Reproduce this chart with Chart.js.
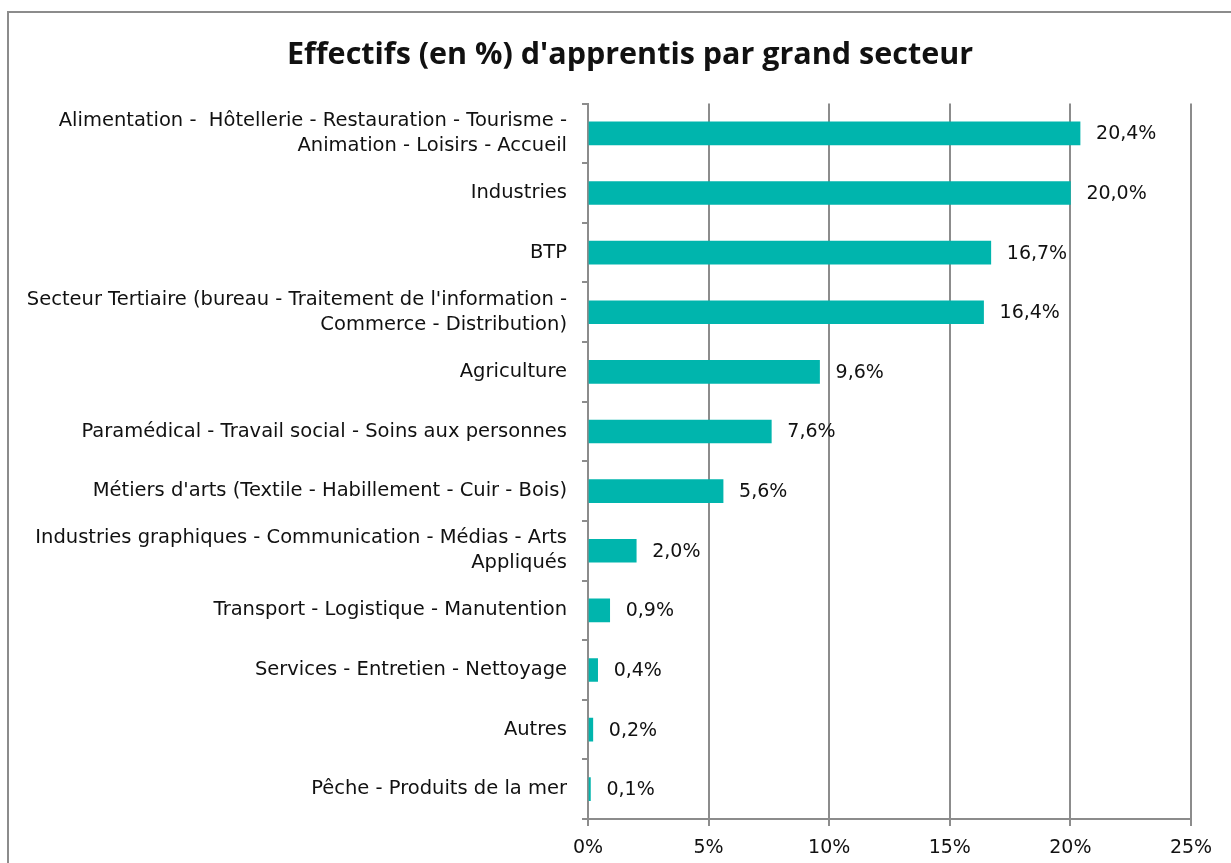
<!DOCTYPE html>
<html>
<head>
<meta charset="utf-8">
<script src="https://cdn.jsdelivr.net/npm/chart.js@4"></script>
<style>
    body { margin: 0; background: #fff; overflow: hidden; }
    #frame { position: absolute; left: 7px; top: 11px; width: 1242px; height: 870px; border: 2px solid #8c8c8c; background: #fff; }
</style>
</head>
<body>
<div id="frame"><canvas id="secteurChart" width="1242" height="870"></canvas></div>
<script>
// categories (top to bottom)
const secteurs = [
    ['Alimentation -  Hôtellerie - Restauration - Tourisme -', 'Animation - Loisirs - Accueil'],
    'Industries',
    'BTP',
    ["Secteur Tertiaire (bureau - Traitement de l'information -", 'Commerce - Distribution)'],
    'Agriculture',
    'Paramédical - Travail social - Soins aux personnes',
    "Métiers d'arts (Textile - Habillement - Cuir - Bois)",
    ['Industries graphiques - Communication - Médias - Arts', 'Appliqués'],
    'Transport - Logistique - Manutention',
    'Services - Entretien - Nettoyage',
    'Autres',
    'Pêche - Produits de la mer'
];
// share of apprentices, in %
const effectifs = [20.4, 20.0, 16.7, 16.4, 9.6, 7.6, 5.6, 2.0, 0.9, 0.4, 0.2, 0.1];
// x axis ticks
const xTicks = [0, 5, 10, 15, 20, 25];

const fontFamily = "'DejaVu Sans', 'Noto Sans', sans-serif";
const titleFont = "'Open Sans', 'Noto Sans', sans-serif";

// writes the value at the end of each bar
const valueLabels = {
    id: 'valueLabels',
    afterDatasetsDraw(chart) {
        const ctx = chart.ctx;
        const meta = chart.getDatasetMeta(0);
        ctx.save();
        ctx.font = '19px ' + fontFamily;
        ctx.fillStyle = '#111';
        ctx.textAlign = 'left';
        ctx.textBaseline = 'middle';
        meta.data.forEach(function(bar, i) {
            const txt = effectifs[i].toFixed(1).replace('.', ',') + '%';
            ctx.fillText(txt, bar.x + 16, bar.y + 1);
        });
        ctx.restore();
    }
};

// center the title on the whole canvas, not on the padded area
const titleFullWidth = {
    id: 'titleFullWidth',
    afterLayout(chart) {
        if (chart.titleBlock) {
            chart.titleBlock.left = 0;
            chart.titleBlock.right = chart.width;
            chart.titleBlock.width = chart.width;
        }
    }
};

const ctx = document.getElementById('secteurChart').getContext('2d');
const chart = new Chart(ctx, {
    type: 'bar',
    data: {
        labels: secteurs,
        datasets: [{
            label: 'Effectifs',
            data: effectifs,
            backgroundColor: '#00b5ad',
            borderWidth: 0,
            barThickness: 23
        }]
    },
    options: {
        indexAxis: 'y',
        responsive: false,
        animation: false,
        layout: { padding: { left: 0, right: 60, top: 0, bottom: 0 } },
        plugins: {
            legend: { display: false },
            tooltip: { enabled: false },
            title: {
                display: true,
                text: "Effectifs (en %) d'apprentis par grand secteur",
                color: '#111',
                font: { family: titleFont, size: 30.5, weight: 'bold' },
                padding: { top: 24, bottom: 30 }
            }
        },
        scales: {
            x: {
                min: 0,
                max: 25,
                afterBuildTicks: function(scale) {
                    scale.ticks = xTicks.map(v => ({ value: v }));
                },
                afterFit: function(scale) { scale.height = 64; },
                grid: { color: '#8c8c8c', lineWidth: 2, tickLength: 7, drawTicks: true },
                border: { color: '#8c8c8c', width: 2 },
                ticks: {
                    color: '#111',
                    padding: 11,
                    font: { family: fontFamily, size: 19 },
                    callback: function(v) { return v + '%'; }
                }
            },
            y: {
                afterFit: function(scale) { scale.width = 579; },
                grid: { drawOnChartArea: false, drawTicks: true, tickLength: 6, color: '#8c8c8c', lineWidth: 2, offset: true },
                border: { color: '#8c8c8c', width: 2 },
                ticks: {
                    color: '#111',
                    padding: 15,
                    autoSkip: false,
                    font: { family: fontFamily, size: 19.5, lineHeight: 1.28 }
                }
            }
        }
    },
    plugins: [valueLabels, titleFullWidth]
});
</script>
</body>
</html>
